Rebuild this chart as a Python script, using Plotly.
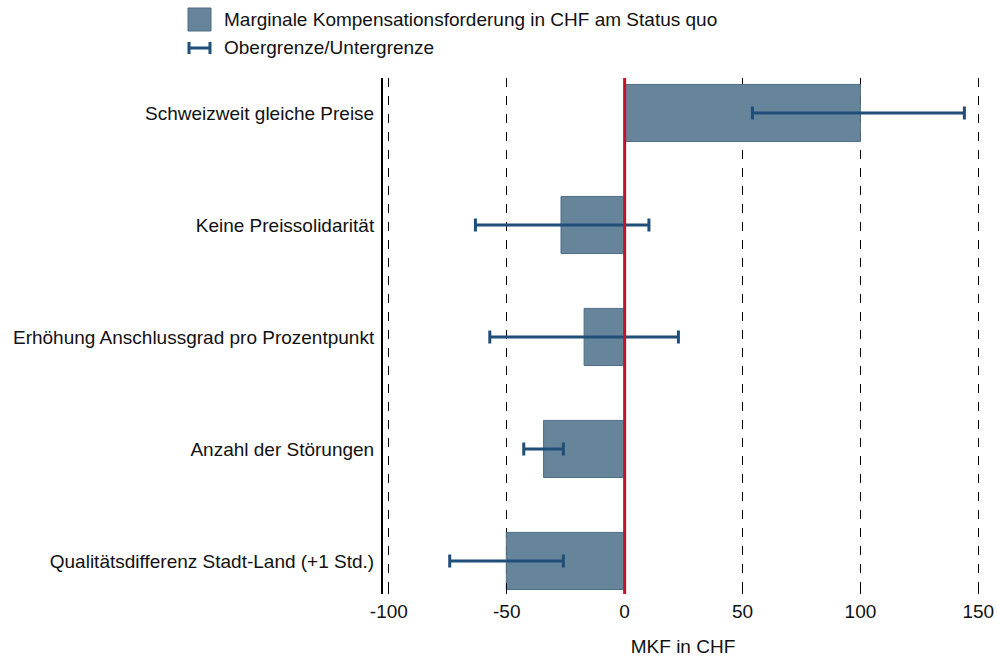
import plotly.graph_objects as go

categories = [
    "Schweizweit gleiche Preise",
    "Keine Preissolidarität",
    "Erhöhung Anschlussgrad pro Prozentpunkt",
    "Anzahl der Störungen",
    "Qualitätsdifferenz Stadt-Land (+1 Std.)",
]
mkf = [100, -27, -17.2, -34.4, -50.2]
lower = [54.2, -63.3, -57.2, -42.8, -74.2]
upper = [144.1, 10.3, 22.8, -26.0, -26.0]
x_ticks = [-100, -50, 0, 50, 100, 150]
zero_value = 0

W, H = 997, 659
L, R, T, B = 383, 14, 78, 65
pw, ph = W - L - R, H - T - B


def px_x(x):
    return (x - L) / pw


def px_y(y):
    return (H - B - y) / ph


FONT = "Liberation Sans, Arial, sans-serif"
FS = 19
BAR_FILL = "#66849a"
BAR_LINE = "#4f6d85"
ERR = "#1f4e79"

fig = go.Figure()
fig.add_trace(go.Bar(
    y=categories,
    x=mkf,
    orientation="h",
    width=0.51,
    marker=dict(color=BAR_FILL, line=dict(color=BAR_LINE, width=1)),
    error_x=dict(
        type="data",
        symmetric=False,
        array=[u - v for u, v in zip(upper, mkf)],
        arrayminus=[v - l for v, l in zip(mkf, lower)],
        color=ERR,
        thickness=3,
        width=6.5,
    ),
    showlegend=False,
    hoverinfo="skip",
))

fig.add_vline(x=zero_value, line=dict(color="#c8102e", width=3), layer="above")

shapes = []
shapes.append(dict(type="rect", xref="paper", yref="paper",
                   x0=px_x(188), x1=px_x(211), y0=px_y(31), y1=px_y(8),
                   fillcolor=BAR_FILL, line=dict(color=BAR_LINE, width=1)))
shapes.append(dict(type="line", xref="paper", yref="paper",
                   x0=px_x(189), x1=px_x(210), y0=px_y(48), y1=px_y(48),
                   line=dict(color=ERR, width=3)))
for xx in (189, 210):
    shapes.append(dict(type="line", xref="paper", yref="paper",
                       x0=px_x(xx), x1=px_x(xx), y0=px_y(42), y1=px_y(54),
                       line=dict(color=ERR, width=3)))
for s in shapes:
    fig.add_shape(**s)

fig.add_annotation(x=px_x(222), y=px_y(19), xref="paper", yref="paper",
                   text="Marginale Kompensationsforderung in CHF am Status quo",
                   showarrow=False, xanchor="left", yanchor="middle",
                   font=dict(family=FONT, size=FS, color="#111"))
fig.add_annotation(x=px_x(222), y=px_y(48), xref="paper", yref="paper",
                   text="Obergrenze/Untergrenze",
                   showarrow=False, xanchor="left", yanchor="middle",
                   font=dict(family=FONT, size=FS, color="#111"))

fig.update_layout(
    width=W, height=H,
    margin=dict(l=L, r=R, t=T, b=B, pad=0, autoexpand=False),
    plot_bgcolor="white", paper_bgcolor="white",
    font=dict(family=FONT, size=FS, color="#111"),
)
fig.update_xaxes(
    automargin=False,
    range=[-102.5, 152],
    tickvals=x_ticks,
    ticktext=[str(v) for v in x_ticks],
    ticks="inside", ticklen=11, tickcolor="black", tickwidth=1,
    showgrid=True, gridcolor="black", griddash="dash", gridwidth=1,
    zeroline=False, showline=False,
    title=dict(text="MKF in CHF", standoff=18, font=dict(size=FS)),
    ticklabelstandoff=4,
)
fig.update_yaxes(
    automargin=False,
    type="category",
    categoryorder="array",
    categoryarray=list(reversed(categories)),
    range=[-0.295, 4.3125],
    showgrid=False, zeroline=False,
    showline=True, linecolor="black", linewidth=2,
    ticks="", ticklabelstandoff=3,
)

fig.write_html("out.html", config={"displayModeBar": False},
               post_script="document.body.style.margin='0px';")
